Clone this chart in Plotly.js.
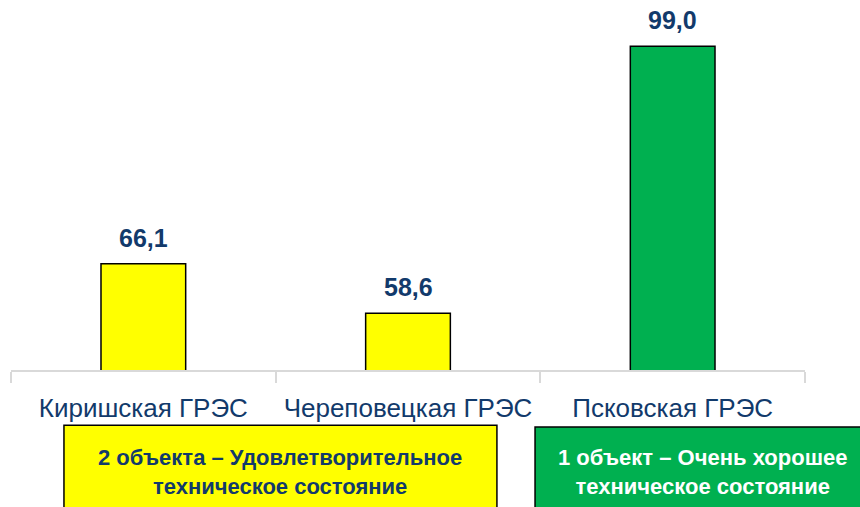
<!DOCTYPE html>
<html>
<head>
<meta charset="utf-8">
<script src="https://cdn.plot.ly/plotly-3.0.1.min.js"></script>
<style>
  html, body { margin: 0; padding: 0; background: #fff; }
  #chart { width: 860px; height: 507px; }
</style>
</head>
<body>
<div id="chart"></div>
<script>
// Data
const plants = ['Киришская ГРЭС', 'Череповецкая ГРЭС', 'Псковская ГРЭС'];
const indexValues = [66.1, 58.6, 99.0];
const barColors = ['#FFFF00', '#FFFF00', '#00B050'];

const groupLabels = [
    '2 объекта – Удовлетворительное<br>техническое состояние',
    '1 объект – Очень хорошее<br>техническое состояние'
];

const FONT = '"Liberation Sans Narrow", "Arial Narrow", "Liberation Sans", Arial, sans-serif';
const NAVY = '#123A6B';

const trace = {
    type: 'bar',
    x: plants,
    y: indexValues,
    width: 0.32,
    marker: {
        color: barColors,
        line: { color: '#000000', width: 1.5 }
    },
    hoverinfo: 'none'
};

// value labels above the bars
const valueLabels = plants.map((p, i) => ({
    x: p,
    y: indexValues[i],
    xref: 'x',
    yref: 'y',
    text: '<b>' + indexValues[i].toFixed(1).replace('.', ',') + '</b>',
    showarrow: false,
    xanchor: 'center',
    yanchor: 'bottom',
    yshift: 10,
    font: { family: FONT, size: 25, color: NAVY }
}));

// boxes under the axis
const boxes = [
    {
        type: 'rect', xref: 'paper', yref: 'paper',
        x0: 0.0667, x1: 0.612, y0: -0.42, y1: -0.149,
        fillcolor: '#FFFF00', line: { color: '#000000', width: 1.5 }
    },
    {
        type: 'rect', xref: 'paper', yref: 'paper',
        x0: 0.66, x1: 1.09, y0: -0.42, y1: -0.154,
        fillcolor: '#00B050', line: { color: '#000000', width: 1.5 }
    }
];

const boxLabels = [
    {
        x: 0.339, y: -0.275, xref: 'paper', yref: 'paper',
        xanchor: 'center', yanchor: 'middle',
        text: '<b>' + groupLabels[0] + '</b>', showarrow: false,
        font: { family: FONT, size: 22, color: NAVY }
    },
    {
        x: 0.871, y: -0.275, xref: 'paper', yref: 'paper',
        xanchor: 'center', yanchor: 'middle',
        text: '<b>' + groupLabels[1] + '</b>', showarrow: false,
        font: { family: FONT, size: 22, color: '#FFFFFF' }
    }
];

const layout = {
    width: 860,
    height: 507,
    margin: { l: 11, r: 55, t: 0, b: 137 },
    paper_bgcolor: '#ffffff',
    plot_bgcolor: '#ffffff',
    showlegend: false,
    xaxis: {
        showline: true,
        linecolor: '#d9d9d9',
        linewidth: 2,
        ticks: 'outside',
        tickson: 'boundaries',
        ticklen: 11,
        tickwidth: 2,
        tickcolor: '#d9d9d9',
        ticklabelstandoff: 14,
        tickfont: { family: FONT, size: 26, color: NAVY },
        showgrid: false,
        zeroline: false
    },
    yaxis: {
        range: [50, 106],
        visible: false,
        showgrid: false,
        zeroline: false
    },
    shapes: boxes,
    annotations: valueLabels.concat(boxLabels)
};

Plotly.newPlot('chart', [trace], layout, { displayModeBar: false, staticPlot: true });
</script>
</body>
</html>
